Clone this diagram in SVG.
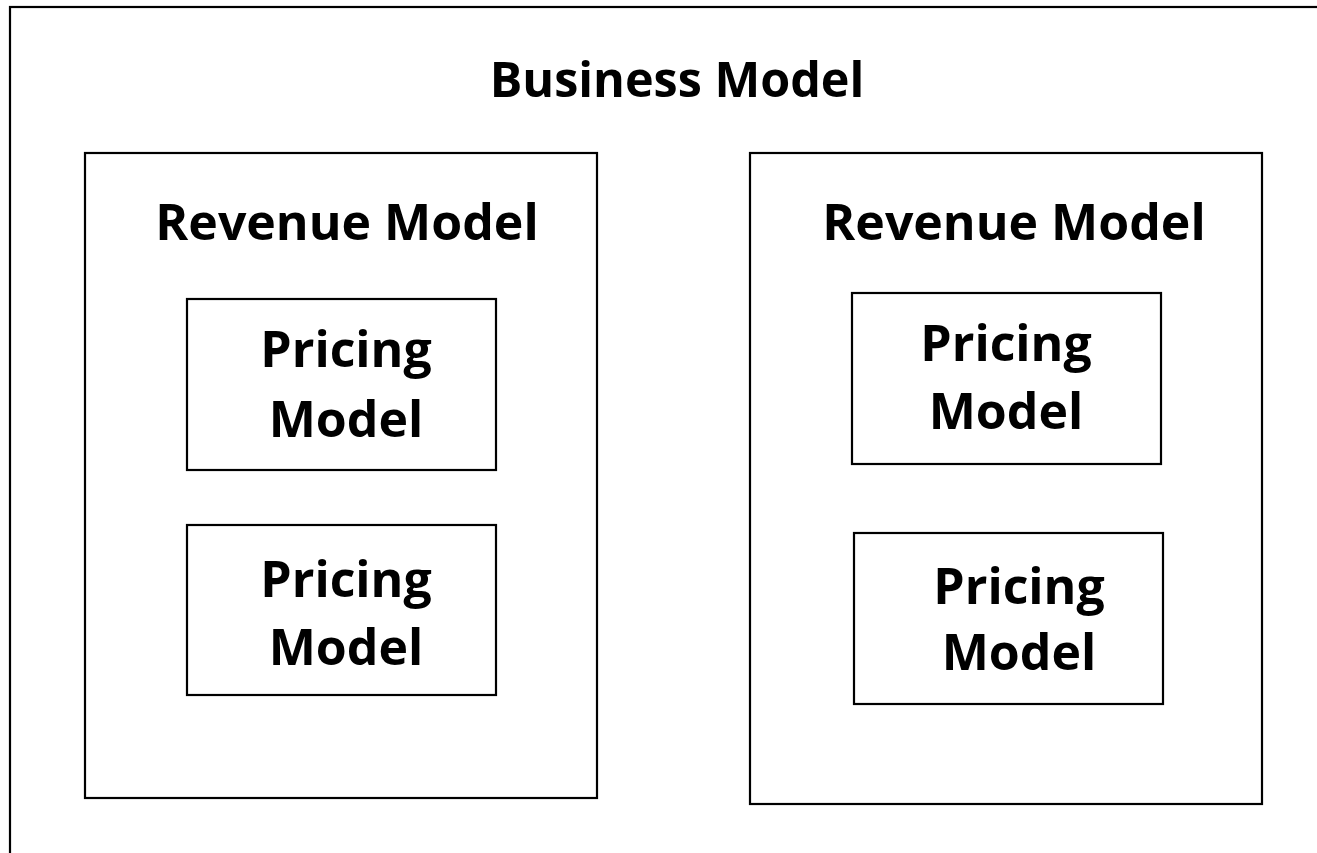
<svg xmlns="http://www.w3.org/2000/svg" width="1317" height="853" viewBox="0 0 1317 853">
<style>
.box{fill:#fff;stroke:#000;stroke-width:2.2}
.t{font-family:"Open Sans","Liberation Sans",sans-serif;font-weight:700;font-size:50px;fill:#000;text-anchor:middle}
.big{font-size:48.5px}
</style>
<rect width="1317" height="853" fill="#fff"/>
<g id="business">
<rect class="box" x="10" y="7" width="1330" height="870"/>
<text class="t big" x="677" y="97">Business Model</text>
</g>
<g id="revenue-left">
<rect class="box" x="85" y="153" width="512" height="645"/>
<text class="t" x="347" y="240">Revenue Model</text>
</g>
<g id="revenue-right">
<rect class="box" x="750" y="153" width="512" height="651"/>
<text class="t" x="1014" y="240">Revenue Model</text>
</g>
<g id="pricing-l1">
<rect class="box" x="187" y="299" width="309" height="171"/>
<text class="t" x="346" y="367">Pricing</text>
<text class="t" x="346" y="437">Model</text>
</g>
<g id="pricing-l2">
<rect class="box" x="187" y="525" width="309" height="170"/>
<text class="t" x="346" y="597">Pricing</text>
<text class="t" x="346" y="665">Model</text>
</g>
<g id="pricing-r1">
<rect class="box" x="852" y="293" width="309" height="171"/>
<text class="t" x="1006" y="361">Pricing</text>
<text class="t" x="1006" y="429">Model</text>
</g>
<g id="pricing-r2">
<rect class="box" x="854" y="533" width="309" height="171"/>
<text class="t" x="1019" y="604">Pricing</text>
<text class="t" x="1019" y="670">Model</text>
</g>
<g id="connectors"></g>
</svg>
